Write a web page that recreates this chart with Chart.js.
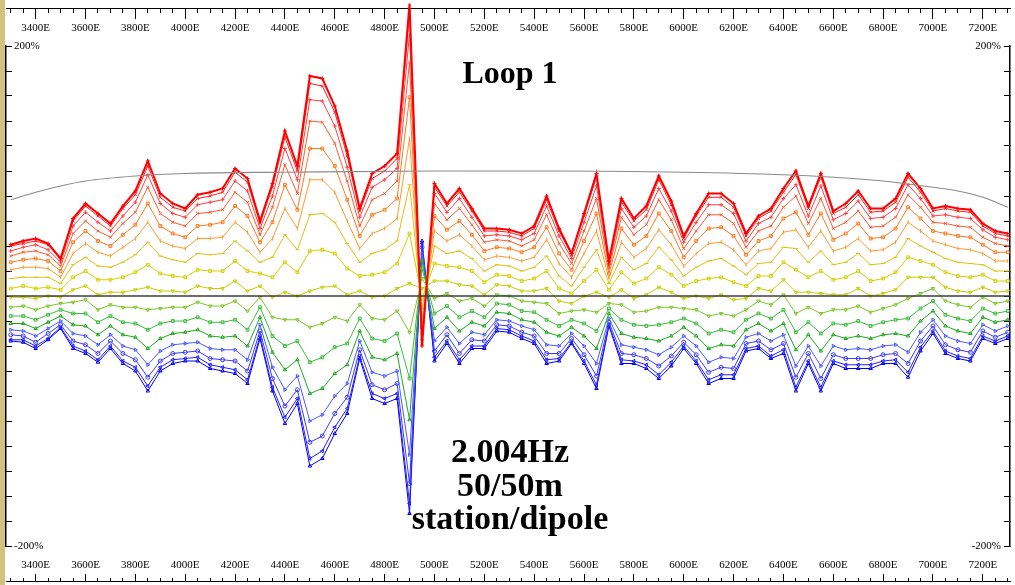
<!DOCTYPE html>
<html lang="en">
<head>
  <meta charset="UTF-8">
  <title>Loop 1 - 2.004Hz</title>
  <style>
    body {
      margin: 0;
      padding: 0;
      background-color: #ffffff;
    }
    .frame {
      position: relative;
      width: 1015px;
      height: 585px;
      overflow: hidden;
    }
    /* faixa bege na borda esquerda */
    .edge {
      position: absolute;
      left: 0;
      top: 0;
      width: 5px;
      height: 585px;
      background-color: #d3c27f;
    }
    canvas {
      position: absolute;
      left: 0;
      top: 0;
    }
    .note {
      position: absolute;
      font-family: "Liberation Serif", serif;
      font-weight: bold;
      color: #000;
      text-align: center;
      white-space: nowrap;
    }
    #loopLabel {
      left: 410px;
      top: 56px;
      width: 200px;
      font-size: 32px;
      line-height: 32px;
    }
    #freqLabel {
      left: 360px;
      top: 434px;
      width: 300px;
      font-size: 34px;
      line-height: 33.5px;
    }
  </style>
</head>
<body>
  <div class="frame">
    <div class="edge"></div>
    <canvas id="ipChart" width="1015" height="585"></canvas>
    <div class="note" id="loopLabel">Loop 1</div>
    <div class="note" id="freqLabel">2.004Hz<br>50/50m<br>station/dipole</div>
  </div>

  <script src="https://cdn.jsdelivr.net/npm/chart.js"></script>
  <script>
    // Stations (E) every 50 m
    const stations = [
      3300, 3350, 3400, 3450, 3500, 3550, 3600, 3650, 3700, 3750,
      3800, 3850, 3900, 3950, 4000, 4050, 4100, 4150, 4200, 4250,
      4300, 4350, 4400, 4450, 4500, 4550, 4600, 4650, 4700, 4750,
      4800, 4850, 4900, 4950, 5000, 5050, 5100, 5150, 5200, 5250,
      5300, 5350, 5400, 5450, 5500, 5550, 5600, 5650, 5700, 5750,
      5800, 5850, 5900, 5950, 6000, 6050, 6100, 6150, 6200, 6250,
      6300, 6350, 6400, 6450, 6500, 6550, 6600, 6650, 6700, 6750,
      6800, 6850, 6900, 6950, 7000, 7050, 7100, 7150, 7200, 7250,
      7300
    ];

    // Series values in % (top red line down to bottom blue line)
    const red1 = [41, 44, 46, 42, 30, 62, 74, 66, 58, 72, 84, 108, 82, 74, 70, 81, 83, 86, 102, 94, 60, 90, 132, 104, 176, 174, 152, 116, 70, 98, 104, 114, 234, -40, 90, 74, 86, 70, 54, 54, 53, 50, 56, 80, 54, 34, 66, 98, 28, 78, 62, 72, 96, 76, 48, 66, 82, 82, 74, 50, 64, 70, 86, 100, 72, 98, 68, 74, 84, 70, 70, 78, 98, 86, 70, 72, 70, 69, 58, 52, 50];
    const red2 = [40, 42, 44, 41, 29, 60, 72, 64, 56, 70, 81, 104, 79, 71, 68, 78, 80, 83, 99, 91, 58, 87, 127, 100, 170, 168, 147, 112, 68, 94, 100, 110, 226, -38, 87, 72, 83, 68, 52, 52, 51, 48, 54, 77, 52, 33, 64, 95, 27, 75, 60, 69, 93, 73, 46, 64, 79, 79, 71, 48, 62, 68, 83, 97, 70, 95, 66, 71, 81, 67, 68, 75, 95, 83, 68, 70, 68, 67, 56, 50, 48];
    const red3 = [36, 39, 41, 37, 27, 56, 67, 59, 52, 64, 75, 97, 74, 66, 63, 73, 75, 77, 92, 84, 54, 80, 118, 93, 157, 156, 136, 103, 63, 87, 93, 102, 210, -35, 82, 67, 78, 63, 48, 49, 48, 45, 50, 72, 48, 30, 59, 88, 25, 70, 55, 64, 86, 68, 43, 59, 73, 73, 66, 44, 58, 63, 78, 89, 64, 88, 61, 66, 76, 62, 63, 70, 89, 78, 64, 65, 63, 62, 53, 47, 45];
    const red4 = [32, 35, 36, 33, 24, 50, 60, 52, 47, 58, 67, 87, 66, 59, 56, 66, 67, 69, 83, 75, 49, 71, 105, 82, 140, 139, 122, 92, 56, 77, 82, 92, 187, -30, 74, 61, 70, 57, 43, 45, 44, 40, 45, 65, 42, 26, 52, 78, 22, 63, 49, 57, 77, 61, 38, 52, 65, 65, 58, 39, 52, 56, 71, 80, 58, 78, 54, 59, 68, 55, 56, 63, 81, 71, 59, 58, 56, 55, 47, 42, 40];
    const orange1 = [27, 29, 30, 28, 20, 43, 52, 44, 40, 49, 57, 74, 56, 50, 47, 56, 57, 59, 72, 64, 43, 59, 89, 69, 118, 118, 104, 77, 48, 65, 69, 78, 159, -25, 64, 53, 60, 49, 36, 39, 38, 35, 39, 55, 34, 21, 44, 66, 18, 54, 41, 48, 66, 52, 31, 44, 54, 55, 48, 33, 44, 48, 62, 67, 49, 66, 45, 50, 58, 46, 47, 54, 71, 62, 52, 50, 48, 47, 41, 35, 35];
    const orange2 = [21, 23, 23, 22, 15, 34, 42, 35, 32, 39, 46, 59, 44, 40, 38, 46, 46, 47, 59, 51, 35, 46, 70, 54, 93, 93, 83, 60, 38, 50, 54, 62, 126, -18, 52, 44, 49, 40, 29, 32, 31, 28, 31, 45, 26, 15, 34, 52, 14, 43, 31, 38, 53, 41, 24, 34, 42, 43, 37, 25, 36, 38, 51, 53, 39, 52, 36, 39, 46, 36, 37, 43, 59, 52, 44, 41, 38, 37, 34, 28, 28];
    const yellow1 = [14, 15, 15, 15, 10, 25, 31, 24, 23, 27, 33, 43, 32, 29, 27, 34, 33, 34, 44, 36, 27, 31, 49, 37, 65, 66, 59, 42, 27, 34, 37, 44, 89, -10, 40, 34, 36, 30, 20, 25, 24, 20, 23, 32, 16, 8, 23, 37, 10, 31, 21, 26, 39, 29, 16, 23, 28, 30, 24, 17, 26, 27, 39, 38, 27, 36, 25, 27, 34, 25, 26, 31, 46, 40, 35, 30, 27, 26, 25, 20, 20];
    const yellow2 = [6, 8, 6, 7, 5, 15, 20, 13, 13, 15, 19, 25, 18, 16, 15, 21, 20, 20, 28, 20, 18, 15, 27, 19, 36, 37, 34, 22, 16, 17, 19, 26, 50, -2, 26, 24, 23, 20, 11, 17, 16, 12, 14, 20, 6, 2, 12, 21, 5, 19, 10, 14, 23, 17, 8, 12, 14, 15, 11, 8, 16, 16, 27, 21, 15, 20, 13, 15, 20, 12, 14, 19, 31, 28, 25, 19, 16, 15, 17, 12, 12];
    const yellow3 = [-1, -1, -2, 0, -1, 5, 8, 1, 3, 3, 5, 7, 4, 4, 3, 8, 6, 6, 12, 4, 8, -1, 3, 0, 4, 7, 8, 1, 4, -1, 0, 6, 10, 6, 12, 12, 9, 8, 1, 9, 8, 4, 4, 6, -4, -6, 0, 3, -1, 5, -2, 1, 7, 3, -2, 0, -2, 1, -3, -2, 6, 4, 13, 3, 3, 2, 1, 1, 6, 0, 2, 5, 15, 15, 15, 7, 4, 3, 7, 3, 4];
    const green1 = [-9, -8, -11, -8, -6, -5, -3, -11, -7, -9, -9, -11, -10, -9, -9, -5, -8, -8, -4, -12, -1, -17, -19, -19, -25, -22, -17, -20, -7, -18, -19, -12, -29, 14, -2, 2, -4, -2, -8, 1, 0, -4, -5, -6, -14, -12, -11, -13, -6, -7, -13, -12, -9, -9, -10, -11, -16, -14, -16, -11, -4, -7, 1, -14, -9, -14, -11, -11, -8, -13, -10, -7, -2, 2, 6, -4, -7, -9, -1, -6, -4];
    const green2 = [-16, -16, -19, -15, -11, -14, -14, -21, -16, -21, -22, -27, -22, -20, -20, -17, -21, -21, -19, -27, -9, -32, -40, -36, -53, -49, -41, -38, -18, -34, -36, -30, -66, 22, -14, -8, -17, -12, -17, -6, -7, -12, -13, -19, -24, -19, -22, -28, -10, -19, -23, -24, -23, -21, -18, -22, -30, -27, -29, -19, -14, -18, -11, -29, -21, -30, -22, -23, -20, -24, -21, -19, -18, -10, -4, -15, -18, -20, -10, -14, -12];
    const green3 = [-22, -22, -26, -21, -16, -23, -24, -31, -24, -31, -33, -42, -34, -30, -29, -27, -32, -33, -32, -40, -17, -45, -59, -51, -78, -74, -62, -55, -28, -49, -51, -46, -99, 28, -26, -17, -28, -21, -24, -13, -14, -19, -21, -29, -32, -25, -32, -42, -14, -30, -33, -34, -36, -32, -25, -32, -42, -39, -40, -27, -22, -28, -22, -43, -31, -44, -31, -34, -32, -34, -31, -30, -32, -20, -12, -24, -28, -30, -17, -21, -19];
    const blue1 = [-27, -28, -32, -26, -20, -30, -32, -39, -31, -40, -43, -55, -44, -39, -38, -37, -42, -43, -43, -51, -23, -57, -75, -64, -100, -95, -80, -70, -36, -61, -64, -60, -127, 34, -36, -25, -38, -29, -31, -19, -20, -24, -27, -39, -40, -30, -40, -54, -18, -39, -41, -43, -47, -41, -32, -40, -53, -49, -50, -33, -30, -36, -31, -56, -40, -56, -40, -43, -42, -43, -40, -39, -45, -29, -19, -32, -36, -38, -23, -28, -24];
    const blue2 = [-31, -32, -37, -30, -23, -36, -39, -46, -36, -46, -51, -65, -52, -46, -45, -44, -50, -51, -52, -60, -28, -66, -88, -75, -117, -112, -94, -81, -43, -71, -75, -70, -150, 39, -44, -31, -46, -35, -36, -23, -24, -29, -32, -46, -46, -34, -47, -64, -21, -46, -47, -50, -56, -48, -37, -47, -61, -57, -58, -38, -36, -43, -38, -65, -46, -66, -47, -50, -50, -50, -47, -46, -54, -36, -24, -39, -43, -45, -28, -33, -29];
    const blue3 = [-35, -35, -40, -34, -25, -40, -44, -51, -40, -52, -57, -72, -57, -51, -50, -49, -55, -57, -59, -67, -32, -73, -97, -82, -130, -124, -105, -90, -48, -78, -82, -78, -166, 42, -49, -36, -51, -40, -40, -26, -27, -32, -36, -51, -50, -37, -52, -71, -23, -51, -52, -55, -63, -53, -40, -52, -67, -63, -63, -42, -40, -48, -43, -73, -52, -73, -52, -55, -55, -55, -52, -51, -61, -41, -28, -44, -48, -50, -32, -36, -32];
    const blue4 = [-36, -37, -42, -35, -26, -42, -46, -53, -42, -54, -60, -76, -60, -54, -52, -52, -58, -60, -62, -70, -34, -76, -102, -86, -136, -130, -110, -94, -50, -82, -86, -82, -174, 44, -52, -38, -54, -42, -42, -28, -29, -34, -38, -54, -52, -38, -54, -74, -24, -54, -54, -58, -66, -56, -42, -54, -70, -66, -66, -44, -42, -50, -46, -76, -54, -76, -54, -58, -58, -58, -54, -54, -65, -44, -30, -46, -50, -52, -34, -38, -34];

    // Grey reference curve across the line
    const topoStations = [3300, 3400, 3500, 3600, 3800, 4000, 4400, 5000, 5500, 6000, 6400, 6600, 6800, 7000, 7100, 7200, 7300];
    const topoValues = [77, 83, 88, 92, 96, 98, 99, 100, 100, 99, 97, 95, 92, 87, 84, 79, 71];

    // Axis ticks
    const rulerLabelStep = 200;
    const yLimit = 200;

    const seriesValues = [red1, red2, red3, red4, orange1, orange2, yellow1, yellow2, yellow3,
                          green1, green2, green3, blue1, blue2, blue3, blue4];
    const seriesColors = ['#ff0000', '#ff2020', '#ff4040', '#ff5a30', '#ff7a1e', '#ff9a2e',
                          '#e0c010', '#d4d000', '#c8cc00', '#7cc828', '#3cbc3c', '#1fa81f',
                          '#4c5cff', '#3a3aff', '#2020ff', '#0000f0'];
    const seriesMarkers = ['cross', 'crossRot', 'cross', 'crossRot', 'rect', 'line', 'line', 'rect',
                           'triangle', 'triangle', 'rect', 'triangle', 'triangle', 'circle', 'triangle', 'triangle'];
    const markerRotation = [0, 0, 0, 0, 0, 90, 0, 0, 180, 180, 0, 0, 90, 0, 270, 0];

    const datasets = [];

    // zero line
    datasets.push({
      label: 'zero',
      data: [{ x: 3281, y: 0 }, { x: 7309, y: 0 }],
      borderColor: '#3c3c3c',
      borderWidth: 1.5,
      pointRadius: 0
    });

    datasets.push({
      label: 'topo',
      data: topoStations.map((e, i) => ({ x: e, y: topoValues[i] })),
      borderColor: '#8a8a8a',
      borderWidth: 1.2,
      pointRadius: 0,
      cubicInterpolationMode: 'monotone'
    });

    seriesValues.forEach((vals, k) => {
      datasets.push({
        label: 'n' + (k + 1),
        data: stations.map((e, i) => ({ x: e, y: vals[i] })),
        borderColor: seriesColors[k],
        borderWidth: k === 0 ? 2 : 1,
        pointStyle: seriesMarkers[k],
        pointRotation: markerRotation[k],
        pointRadius: 2,
        pointBorderWidth: 1,
        pointBorderColor: seriesColors[k],
        pointBackgroundColor: 'rgba(0,0,0,0)',
        tension: 0,
        clip: false
      });
    });

    const tickFont = { family: 'Liberation Serif', size: 11 };

    function rulerDash(ctx) {
      return ctx.tick && ctx.tick.value % rulerLabelStep === 0 ? [] : [4, 40];
    }
    function rulerLabel(v) {
      return v % rulerLabelStep === 0 ? v + 'E' : '';
    }
    function yLabel(v) {
      return Math.abs(v) === yLimit ? v + '%' : '';
    }

    new Chart(document.getElementById('ipChart').getContext('2d'), {
      type: 'line',
      data: { datasets: datasets },
      options: {
        responsive: false,
        maintainAspectRatio: false,
        animation: false,
        events: [],
        layout: { padding: { top: 46, bottom: 39, left: 0, right: 0 } },
        plugins: {
          legend: { display: false },
          tooltip: { enabled: false }
        },
        scales: {
          // top ruler
          x: {
            type: 'linear',
            axis: 'x',
            position: { y: 230.4 },
            min: 3281,
            max: 7309,
            border: { display: true, color: '#000', width: 1 },
            grid: { drawOnChartArea: false, tickLength: 10, tickColor: '#000', tickWidth: 1, tickBorderDash: rulerDash },
            ticks: {
              stepSize: 50, includeBounds: false, autoSkip: false, maxRotation: 0, minRotation: 0,
              padding: 4, color: '#000', font: tickFont, callback: rulerLabel
            }
          },
          // bottom ruler
          x2: {
            type: 'linear',
            axis: 'x',
            position: { y: -228 },
            min: 3281,
            max: 7309,
            border: { display: true, color: '#000', width: 1 },
            grid: { drawOnChartArea: false, tickLength: -8, tickColor: '#000', tickWidth: 1, tickBorderDash: rulerDash },
            ticks: {
              stepSize: 50, includeBounds: false, autoSkip: false, maxRotation: 0, minRotation: 0,
              padding: -14, color: '#000', font: tickFont, callback: rulerLabel
            }
          },
          y: {
            type: 'linear',
            position: 'left',
            min: -yLimit,
            max: yLimit,
            border: { display: true, color: '#000', width: 1.5 },
            grid: { drawOnChartArea: false, tickLength: -6, tickColor: '#000', tickWidth: 1 },
            ticks: { stepSize: 20, mirror: true, padding: 8, color: '#000', font: tickFont, callback: yLabel },
            afterFit: function (scale) { scale.width = 6; }
          },
          y2: {
            type: 'linear',
            position: 'right',
            min: -yLimit,
            max: yLimit,
            border: { display: true, color: '#000', width: 1.5 },
            grid: { drawOnChartArea: false, tickLength: -6, tickColor: '#000', tickWidth: 1 },
            ticks: { stepSize: 20, mirror: true, padding: -9, color: '#000', font: tickFont, callback: yLabel },
            afterFit: function (scale) { scale.width = 2; }
          }
        }
      }
    });
  </script>
</body>
</html>
